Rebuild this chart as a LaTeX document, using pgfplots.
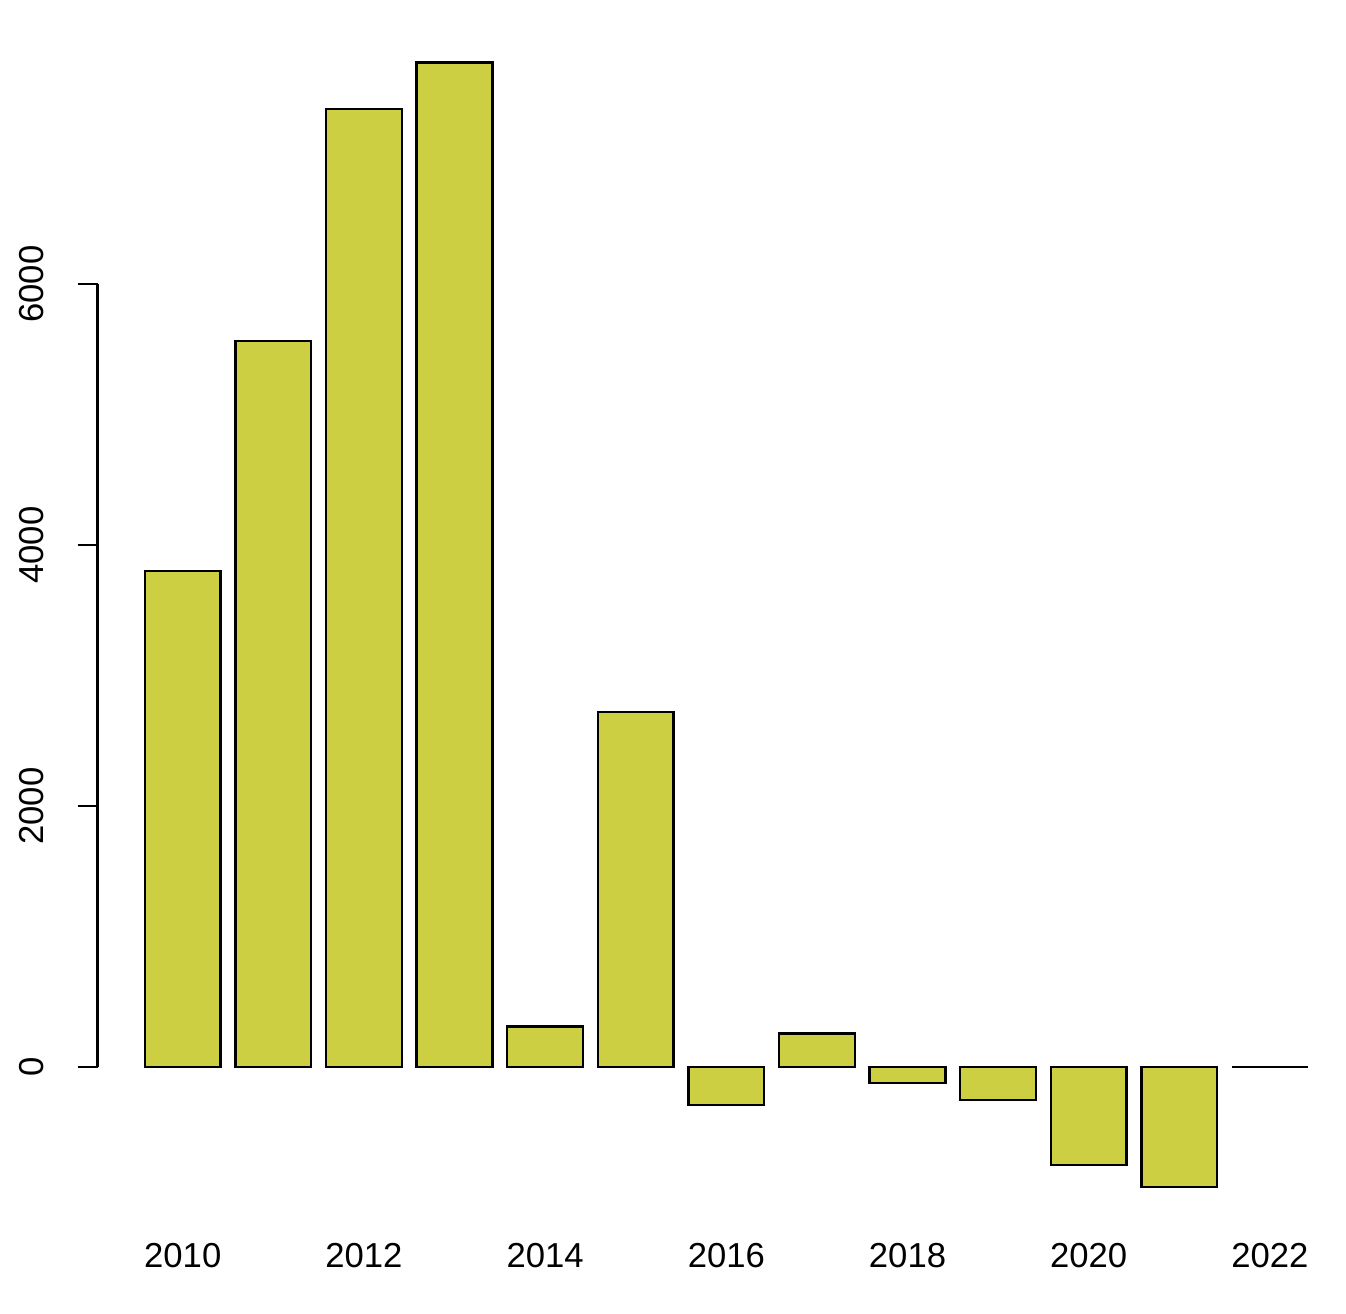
\documentclass[border=0pt]{standalone}
\usepackage{fontspec}
\setmainfont{Liberation Sans}
\usepackage{pgfplots}
\pgfplotsset{compat=1.18}
\definecolor{barfill}{RGB}{205,207,66}
\begin{document}
\begin{tikzpicture}
\useasboundingbox (-36.6pt,-30.75pt) rectangle (468.2pt,462pt);
\begin{axis}[
  at={(0,0)}, anchor=south west,
  scale only axis,
  width=468.2pt, height=455.4pt,
  xmin=-0.94, xmax=12.84,
  ymin=-1265, ymax=8044,
  clip=false,
  axis line style={draw=none},
  xtick={0,2,4,6,8,10,12},
  xticklabels={2010,2012,2014,2016,2018,2020,2022},
  x tick style={draw=none},
  ytick={0,2000,4000,6000},
  yticklabels={0,2000,4000,6000},
  scaled y ticks=false,
  ytick pos=left,
  tick align=outside,
  major tick length=7.5pt,
  y tick style={black, line width=0.9pt},
  ticklabel style={font=\fontsize{13}{15}\selectfont},
  yticklabel style={rotate=90, anchor=south, inner sep=0pt},
  yticklabel shift=12.4pt,
  xticklabel style={anchor=north, inner sep=0pt, yshift=3.5pt},
  ybar, bar width=0.836,
]
\addplot[fill=barfill, draw=black, line width=0.9pt] coordinates {
  (0,3802) (1,5565) (2,7342) (3,7699) (4,309) (5,2721) (6,-291)
  (7,255) (8,-123) (9,-253) (10,-751) (11,-920) (12,0)
};
\draw[line width=0.9pt] (axis cs:-0.94,0) -- (axis cs:-0.94,6000);
\end{axis}
\end{tikzpicture}
\end{document}
